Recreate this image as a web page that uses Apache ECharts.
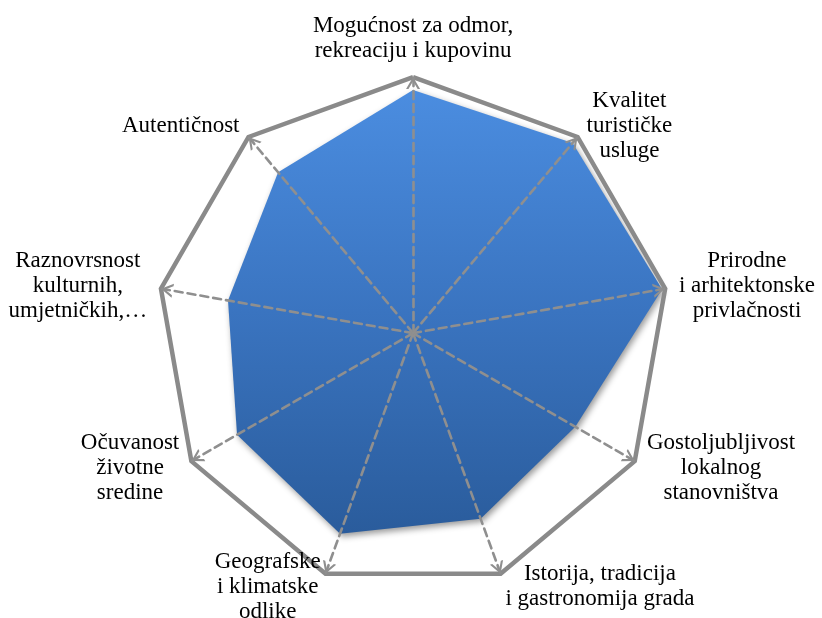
<!DOCTYPE html>
<html>
<head>
<meta charset="utf-8">
<script src="https://cdn.jsdelivr.net/npm/echarts@6/dist/echarts.min.js"></script>
<style>html,body{margin:0;padding:0;background:#fff}#c{width:822px;height:618px}</style>
</head>
<body>
<div id="c"></div>
<script>
// Indicators listed counterclockwise starting from the top
var categories = [
  'Mogućnost za odmor,\nrekreaciju i kupovinu',
  'Autentičnost',
  'Raznovrsnost\nkulturnih,\numjetničkih,…',
  'Očuvanost\nživotne\nsredine',
  'Geografske\ni klimatske\nodlike',
  'Istorija, tradicija\ni gastronomija grada',
  'Gostoljubljivost\nlokalnog\nstanovništva',
  'Prirodne\ni arhitektonske\nprivlačnosti',
  'Kvalitet\nturističke\nusluge'
];
var values = [4.75, 4.1, 3.67, 3.97, 4.17, 3.86, 3.66, 4.94, 4.85];
var maxValue = 5;

var serif = '"Liberation Serif", "Times New Roman", serif';
var chart = echarts.init(document.getElementById('c'), null, {renderer: 'canvas'});
chart.setOption({
  animation: false,
  backgroundColor: '#ffffff',
  radar: {
    z: 3,
    center: ['50.25%', '53.9%'],
    radius: 256,
    startAngle: 90,
    shape: 'polygon',
    splitNumber: 1,
    indicator: categories.map(function (n) { return {name: n, max: maxValue, min: 0}; }),
    nameGap: 14,
    axisName: {
      color: '#000',
      fontFamily: serif,
      fontSize: 23,
      lineHeight: 25,
      formatter: function (name) {
        return name.split('\n').map(function (l) { return '{c|' + l + '}'; }).join('\n');
      },
      rich: {
        c: {
          align: 'center',
          color: '#000',
          fontFamily: serif,
          fontSize: 23,
          lineHeight: 25
        }
      }
    },
    splitArea: {show: false},
    splitLine: {lineStyle: {color: '#8a8a8a', width: 4.5}},
    axisLine: {
      lineStyle: {color: '#8f8f8f', width: 2.6, type: [8, 5]},
      symbol: ['none', 'path://M0,12 L7,0 L14,12 L11.6,12 L7,4.2 L2.4,12 Z'],
      symbolSize: [17, 12],
      symbolOffset: [0, -6]
    },
    axisTick: {show: false},
    axisLabel: {show: false}
  },
  series: [{
    type: 'radar',
    z: 2,
    symbol: 'none',
    lineStyle: {width: 0},
    areaStyle: {
      opacity: 1,
      color: new echarts.graphic.LinearGradient(0, 0, 0, 1, [
        {offset: 0, color: '#4b8de0'},
        {offset: 0.5, color: '#3a74c0'},
        {offset: 1, color: '#2a5c9c'}
      ]),
      shadowBlur: 6,
      shadowColor: 'rgba(0,0,0,0.4)',
      shadowOffsetX: 2,
      shadowOffsetY: 3
    },
    data: [{value: values}]
  }]
});
</script>
</body>
</html>
